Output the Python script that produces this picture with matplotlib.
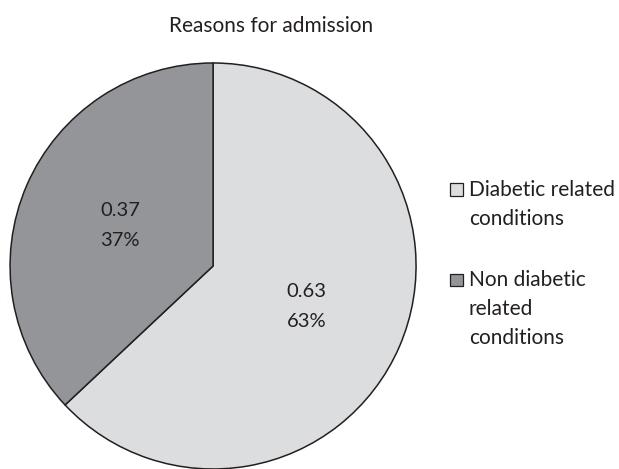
import matplotlib.pyplot as plt
from matplotlib.patches import Rectangle

plt.rcParams['font.family'] = ['Lato', 'DejaVu Sans']

categories = ['Diabetic related\nconditions', 'Non diabetic\nrelated\nconditions']
shares = [0.63, 0.37]
colors = ['#dcdddf', '#939598']
edge = '#231f20'
text_color = '#231f20'

fig = plt.figure(figsize=(6.19, 4.69), dpi=100)
fig.text(0.4385, 1 - 32 / 469, 'Reasons for admission', ha='center', va='baseline',
         fontsize=15, color=text_color)

ax = fig.add_axes([0.0162, 0.0, 0.656, 0.8657])
wedges, texts, autotexts = ax.pie(
    shares, colors=colors, startangle=90, counterclock=False,
    autopct=lambda p: f'{p / 100:.2f}\n{p:.0f}%', pctdistance=0.5,
    wedgeprops=dict(edgecolor=edge, linewidth=1.1),
    textprops=dict(fontsize=14.5, color=text_color, linespacing=1.95),
)
ax.set_xlim(-1, 1)
ax.set_ylim(-1, 1)
ax.set_aspect('equal')

# legend drawn by hand so the square sits on the first text line
legend_baseline = [196, 286]
line_step = 29
for label, color, y in zip(categories, colors, legend_baseline):
    fy = 1 - y / 469
    fig.patches.append(Rectangle((450 / 619, fy), 12.5 / 619, 12.5 / 469,
                                 transform=fig.transFigure, facecolor=color,
                                 edgecolor=edge, linewidth=0.9))
    for i, line in enumerate(label.split('\n')):
        fig.text(469 / 619, fy - i * line_step / 469, line, ha='left', va='baseline',
                 fontsize=15, color=text_color)

fig.savefig('out.png', dpi=100)
